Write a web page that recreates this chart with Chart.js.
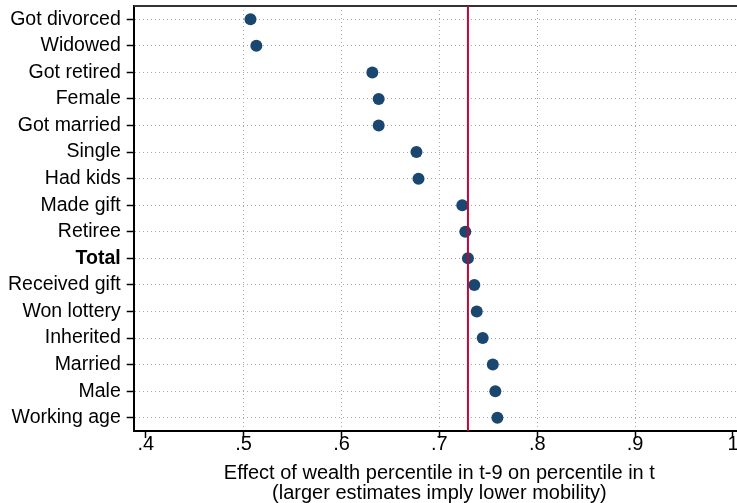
<!DOCTYPE html>
<html>
<head>
<meta charset="utf-8">
<script src="https://cdn.jsdelivr.net/npm/chart.js@4/dist/chart.umd.min.js"></script>
<style>
  html, body { margin: 0; padding: 0; background: #fff; overflow: hidden; width: 737px; height: 503px; }
  #wrap { position: absolute; left: 0; top: 0; width: 751px; height: 503px; }
</style>
</head>
<body>
<div id="wrap"><canvas id="c" width="751" height="503"></canvas></div>
<script>
const categories = ["Got divorced","Widowed","Got retired","Female","Got married","Single","Had kids","Made gift","Retiree","Total","Received gift","Won lottery","Inherited","Married","Male","Working age"];
const estimates = [0.507,0.513,0.6315,0.638,0.638,0.6766,0.6787,0.7234,0.7265,0.7292,0.7357,0.7382,0.7443,0.7546,0.7572,0.7593];
const referenceLine = 0.7292;
const xTicks = [0.4,0.5,0.6,0.7,0.8,0.9,1.0];
const xRange = [0.3877, 1.0123];
const xTitle = ["Effect of wealth percentile in t-9 on percentile in t","(larger estimates imply lower mobility)"];

const FONT = "'Liberation Sans', Arial, Helvetica, sans-serif";

const framePlugin = {
  id: 'frame',
  afterDatasetsDraw(chart) {
    const {ctx, chartArea, scales} = chart;
    const x = scales.x.getPixelForValue(referenceLine);
    ctx.save();
    ctx.strokeStyle = '#c10534';
    ctx.lineWidth = 2;
    ctx.beginPath();
    ctx.moveTo(x, chartArea.top);
    ctx.lineTo(x, chartArea.bottom);
    ctx.stroke();
    ctx.restore();
  },
  beforeDatasetsDraw(chart) {
    const {ctx, chartArea} = chart;
    ctx.save();
    ctx.strokeStyle = '#333';
    ctx.lineWidth = 2;
    ctx.beginPath();
    ctx.moveTo(chartArea.left, chartArea.top);
    ctx.lineTo(chartArea.right, chartArea.top);
    ctx.stroke();
    ctx.restore();
  }
};

new Chart(document.getElementById('c'), {
  type: 'line',
  data: {
    labels: categories,
    datasets: [{
      data: estimates,
      showLine: false,
      pointRadius: 6,
      pointHoverRadius: 6,
      pointBackgroundColor: '#1a476f',
      pointBorderWidth: 0,
      borderColor: '#1a476f'
    }]
  },
  options: {
    indexAxis: 'y',
    responsive: false,
    animation: false,
    events: [],
    layout: { padding: { top: 6, left: 2, right: 0, bottom: 0 } },
    plugins: { legend: { display: false }, tooltip: { enabled: false } },
    scales: {
      x: {
        type: 'linear',
        min: xRange[0],
        max: xRange[1],
        afterBuildTicks(axis) { axis.ticks = xTicks.map(v => ({ value: v })); },
        afterFit(scale) { scale.paddingLeft = 0; scale.paddingRight = 0; },
        ticks: {
          color: '#000',
          font: { family: FONT, size: 20, lineHeight: 1.0 },
          padding: -4,
          maxRotation: 0,
          autoSkip: false,
          callback(v) { return v === 1 ? '1' : String(+v.toFixed(1)).replace(/^0/, ''); }
        },
        grid: {
          color(ctx) {
            const v = ctx.tick && ctx.tick.value;
            return (v === undefined || Math.abs(v - 0.4) < 1e-6 || Math.abs(v - 1) < 1e-6) ? 'rgba(0,0,0,0)' : '#a8a8a8';
          },
          lineWidth: 1,
          drawTicks: true,
          tickLength: 7,
          tickColor: '#000',
          tickWidth: 1.5,
          tickBorderDash: []
        },
        border: { display: true, color: '#000', width: 2, dash: [1, 3] },
        title: {
          display: true,
          text: xTitle,
          color: '#000',
          font: { family: FONT, size: 20, lineHeight: 1.0 },
          padding: { top: 13, bottom: 0 }
        }
      },
      y: {
        type: 'category',
        offset: true,
        afterFit(scale) { scale.paddingTop = 0; scale.paddingBottom = 0; },
        ticks: {
          color: '#000',
          padding: 6,
          autoSkip: false,
          font(ctx) {
            const bold = ctx.tick && categories[ctx.tick.value] === 'Total';
            return { family: FONT, size: 19.5, weight: bold ? 'bold' : 'normal' };
          }
        },
        grid: {
          color: '#a8a8a8',
          lineWidth: 1,
          drawTicks: true,
          tickLength: 7,
          tickColor: '#000',
          tickWidth: 1.5,
          tickBorderDash: []
        },
        border: { display: true, color: '#000', width: 2, dash: [1, 3] }
      }
    }
  },
  plugins: [framePlugin]
});
</script>
</body>
</html>
